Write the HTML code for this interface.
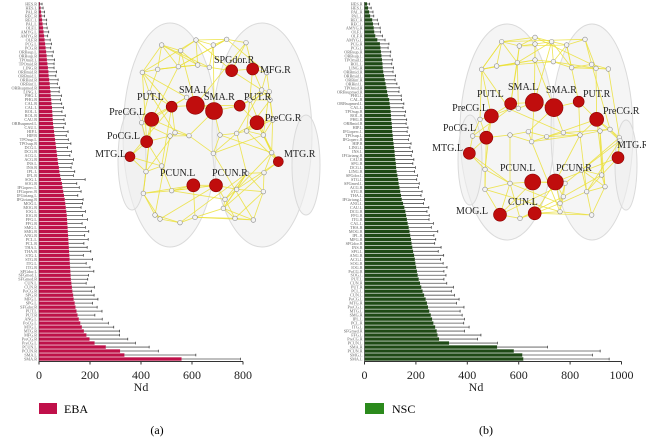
<!DOCTYPE html>
<html><head><meta charset="utf-8">
<style>
html,body{margin:0;padding:0;background:#fff;}
svg{display:block;font-family:"Liberation Serif",serif;}
</style></head>
<body>
<svg id="fig" width="646" height="438" viewBox="0 0 646 438" xmlns="http://www.w3.org/2000/svg">
<g id="chartA"></g>
<g id="chartB"></g>
<g id="brainA"></g>
<g id="brainB"></g>
<g>
<rect x="39" y="403" width="18" height="11" fill="#c0104a"/>
<text x="64" y="413" font-size="12">EBA</text>
</g>
<g>
<rect x="365" y="403" width="19" height="11" fill="#2b8a1c"/>
<text x="392" y="413" font-size="12">NSC</text>
</g>
<text x="157" y="434" font-size="12" text-anchor="middle">(a)</text>
<text x="486" y="434" font-size="12" text-anchor="middle">(b)</text>
</svg>
<script>
const NS="http://www.w3.org/2000/svg";
// ---- data: EBA ----
const ebaRegions=["HES.R","HES.L","PAL.R","REC.R","REC.L","PAL.L","OLF.L","AMYG.L","AMYG.R","OLF.R",
"PCG.L","PCG.R","ORBsup.L","ORBsup.R","TPOmid.L","TPOmid.R","LING.R","ORBmid.R","ORBmid.L","ORBinf.R",
"ORBinf.L","ORBsupmed.R","LING.L","PHG.L","PHG.R","CAL.R","CAL.L","ROL.L","ROL.R","CAU.R",
"ORBsupmed.L","CAU.L","HIP.L","HIP.R","TPOsup.L","TPOsup.R","DCG.L","DCG.R","ACG.L","ACG.R",
"INS.L","INS.R","IPL.L","IPL.R","SOG.L","SOG.R","IFGoperc.L","IFGoperc.R","IFGtriang.L","IFGtriang.R",
"MOG.L","MOG.R","IOG.L","IOG.R","FFG.L","FFG.R","SMG.L","SMG.R","ANG.R","PCL.L",
"PCL.R","THA.L","THA.R","STG.L","STG.R","ITG.L","ITG.R","SFGdor.L","SFGmed.L","SFGmed.R",
"CUN.L","CUN.R","PoCG.R","SPG.R","MFG.L","SPG.L","SFGdor.R","PUT.L","PUT.R","ANG.L",
"PoCG.L","MTG.L","MTG.R","MFG.R","PreCG.R","PreCG.L","PCUN.L","PCUN.R","SMA.L","SMA.R"];
const ebaMean=[4,6,8,10,12,14,16,18,20,22,
24,26,28,30,31,33,35,37,38,40,
42,43,45,46,48,49,51,52,53,54,
55,57,59,61,63,65,67,69,71,73,
75,78,80,83,86,90,92,95,98,101,
103,105,107,109,110,111,112,113,114,115,
116,117,118,119,120,121,122,123,124,125,
127,129,131,134,136,140,143,147,151,156,
162,168,176,186,198,218,262,318,335,559];
const ebaSD=[8,10,14,12,18,15,16,20,14,22,
25,20,28,22,30,26,24,32,28,35,
30,38,34,42,36,40,45,38,50,44,
48,40,55,46,52,60,45,58,50,62,
55,48,60,52,95,58,66,70,54,72,
68,60,75,62,80,58,70,82,65,78,
60,72,85,55,90,64,78,92,70,66,
58,88,75,82,95,70,85,100,68,92,
110,125,140,130,150,160,170,150,280,231];
const ebaTicks=[0,200,400,600,800];
// ---- data: NSC ----
const nscRegions=["HES.R","HES.L","PAL.R","PAL.L","REC.R","REC.L","AMYG.R","OLF.L","OLF.R","AMYG.L",
"PCG.R","PCG.L","ORBsup.R","ORBsup.L","TPOmid.L","ROL.L","LING.R","ORBmid.R","ORBmid.L","ORBinf.R",
"ORBinf.L","TPOmid.R","ORBsupmed.R","PHG.L","CAL.R","ORBsupmed.L","CAL.L","TPOsup.R","ROL.R","PHG.R",
"ORBmid.R","HIP.L","IFGoperc.L","TPOsup.L","IFGoperc.R","HIP.R","LING.L","INS.L","IFGtriang.R","CAU.R",
"SPG.R","DCG.L","LING.R","SFGdor.L","STG.L","SFGmed.L","ACG.R","STG.R","THA.L","IFGtriang.L",
"ANG.L","CAU.L","DCG.R","FFG.R","ITG.R","CAL.L","THA.R","MOG.R","IPL.R","MFG.R",
"SFGdor.R","INS.R","SPG.L","ANG.R","ACG.L","SOG.R","IOG.R","PoCG.R","SOG.L","PUT.L",
"CUN.R","PUT.R","PCL.L","CUN.L","PoCG.L","MTG.R","PreCG.L","MTG.L","SMG.R","IPL.L",
"PCL.R","ITG.L","SFGmed.R","FFG.L","PreCG.R","PCUN.L","SMA.R","PCUN.R","SMG.L","SMA.L"];
const nscMean=[10,14,18,22,30,33,36,38,42,50,
60,62,64,66,68,70,71,73,76,79,
82,85,88,91,96,98,100,102,103,104,
106,107,108,110,111,113,115,117,118,120,
122,123,125,128,131,133,136,139,142,145,
150,155,159,162,165,168,172,175,178,181,
183,186,189,193,196,198,201,204,207,211,
216,221,226,232,238,243,247,252,258,263,
268,275,281,284,290,329,516,581,614,618];
const nscSD=[10,12,15,14,20,22,25,24,28,30,
35,30,38,34,40,36,42,38,45,40,
44,50,46,52,48,55,50,58,54,60,
56,62,58,65,60,68,62,70,64,72,
66,75,70,78,72,80,74,85,78,88,
80,95,84,90,86,100,88,110,92,96,
90,112,98,115,100,108,120,105,110,98,
104,125,112,118,130,115,140,120,122,126,
118,132,108,169,150,188,196,336,273,334];
const nscTicks=[0,200,400,600,800,1000];

function mk(tag,attrs,parent){const e=document.createElementNS(NS,tag);for(const k in attrs)e.setAttribute(k,attrs[k]);parent.appendChild(e);return e;}

function drawChart(g,regions,mean,sd,ticks,x0,x1,maxV,color,prefix,nameX){
  const yTop=2,yBot=361,n=regions.length,rowH=(yBot-yTop)/n;
  const xs=v=>x0+(v/maxV)*(x1-x0);
  const yc=i=>yTop+i*rowH+rowH/2;
  for(let i=0;i<n;i++){
    const b=mk('rect',{x:x0,y:yc(i)-rowH*0.42,width:Math.max(0,xs(mean[i])-x0),height:rowH*0.84,fill:color},g);
    
    
    const e=mk('line',{x1:xs(mean[i]),x2:xs(mean[i]+sd[i]),y1:yc(i),y2:yc(i),stroke:'#555','stroke-width':0.8},g);
    
    
    mk('line',{x1:xs(mean[i]+sd[i]),x2:xs(mean[i]+sd[i]),y1:yc(i)-1.3,y2:yc(i)+1.3,stroke:'#444','stroke-width':0.8},g);
    const t=mk('text',{x:x0-2,y:yc(i)+1.5,'font-size':4.2,'text-anchor':'end',fill:'#666'},g);
    t.textContent=regions[i];
    
    
  }
  const ax=mk('line',{x1:x0,x2:x1,y1:361.5,y2:361.5,stroke:'#333','stroke-width':1},g);
  
  
  mk('line',{x1:x0,x2:x0,y1:yTop,y2:361.5,stroke:'#333','stroke-width':0.6},g);
  ticks.forEach(v=>{
    mk('line',{x1:xs(v),x2:xs(v),y1:361.5,y2:364.5,stroke:'#333','stroke-width':1},g);
    const t=mk('text',{x:xs(v),y:379,'font-size':12,'text-anchor':'middle',fill:'#222'},g);
    t.textContent=v;
    
    
  });
  const tt=mk('text',{x:nameX,y:391,'font-size':12,'text-anchor':'middle',fill:'#222'},g);
  tt.textContent='Nd';
  
  
}
drawChart(document.getElementById('chartA'),ebaRegions,ebaMean,ebaSD,ebaTicks,39,243,800,'#be1149','eba',141);
drawChart(document.getElementById('chartB'),nscRegions,nscMean,nscSD,nscTicks,364.5,621.5,1000,'#1f4a16','nsc',476);

// ---- brain illustrations (zoom coords -> page coords) ----
function drawBrain(g,ox,hemis,small,big,labels,prefix){
  const P=(zx,zy)=>[ox+zx/3,zy/3];
  hemis.forEach(h=>{
    const e=mk('ellipse',{cx:h[0],cy:h[1],rx:h[2],ry:h[3],fill:'#eeeeee','fill-opacity':0.6,stroke:'#dadada','stroke-width':1},g);
    
    
  });
  const nodes=small.map(p=>P(p[0],p[1])).concat(big.map(b=>P(b[0],b[1])));
  const eg=mk('g',{stroke:'#ebe03a','stroke-width':0.85,'stroke-opacity':0.85},g);
  
  
  const seen={};
  nodes.forEach((a,i)=>{
    const d=nodes.map((b,j)=>[j,(a[0]-b[0])**2+(a[1]-b[1])**2]).filter(q=>q[0]!==i).sort((p,q)=>p[1]-q[1]);
    for(let k=0;k<3;k++){const j=d[k][0];const key=Math.min(i,j)+'-'+Math.max(i,j);if(seen[key])continue;seen[key]=1;
      mk('line',{x1:a[0],y1:a[1],x2:nodes[j][0],y2:nodes[j][1]},eg);}
    const j=d[(i*7)%12+5][0];mk('line',{x1:a[0],y1:a[1],x2:nodes[j][0],y2:nodes[j][1]},eg);
  });
  small.forEach(p=>{const q=P(p[0],p[1]);
    const c=mk('circle',{cx:q[0],cy:q[1],r:2.3,fill:'#f4f4f4',stroke:'#888','stroke-width':0.6},g);
    
    });
  big.forEach(b=>{const q=P(b[0],b[1]);
    const c=mk('circle',{cx:q[0],cy:q[1],r:b[2],fill:'#c00d0d',stroke:'#8a0000','stroke-width':0.6},g);
    
    });
  labels.forEach(l=>{
    const t=mk('text',{x:l[1],y:l[2],'font-size':10,'text-anchor':l[3]||'start',fill:'#222'},g);
    t.textContent=l[0];
    
    });
}
drawBrain(document.getElementById('brainA'),110,
 [[170,135,47,112],[262,135,50,112],[132,160,14,50],[306,165,14,50]],
 [[155,135],[212,152],[258,120],[310,135],[350,118],[408,128],[97,217],[143,208],[205,200],[263,195],[298,202],[470,218],[478,275],[455,270],[118,278],[230,292],[480,300],[420,300],[95,368],[180,408],[195,398],[237,407],[330,405],[380,400],[410,393],[460,405],[488,360],[310,460],[485,458],[155,498],[108,515],[410,520],[462,518],[185,572],[100,580],[380,568],[460,575],[345,598],[340,625],[135,645],[150,657],[210,668],[255,652],[375,655],[430,660]],
 [[365,212,6],[428,207,6],[256,316,9],[312,333,8.5],[185,320,5.5],[389,317,5.5],[125,358,7],[441,368,7],[110,425,6],[60,470,5],[505,485,5],[250,556,6.5],[318,556,6.5]],
 [["SPGdor.R",214,63],["MFG.R",260,73],["SMA.L",179,93],["SMA.R",204,100],["PUT.L",137,100],["PUT.R",244,100],["PreCG.L",145,115,"end"],["PreCG.R",265,121],["PoCG.L",140,139,"end"],["MTG.L",126,157,"end"],["MTG.R",284,157],["PCUN.L",160,176],["PCUN.R",212,176]],'eba');
drawBrain(document.getElementById('brainB'),420,
 [[507,132,47,108],[592,132,41,108],[470,160,12,45],[626,165,11,45]],
 [[245,125],[298,138],[345,112],[395,125],[440,135],[495,118],[345,132],[185,208],[230,198],[292,188],[345,180],[400,185],[455,203],[515,193],[528,205],[565,207],[180,358],[268,327],[295,325],[158,408],[270,405],[325,395],[380,410],[430,398],[480,405],[540,393],[598,413],[335,425],[195,508],[195,568],[270,550],[435,550],[485,510],[545,525],[555,560],[430,590],[420,610],[500,575],[300,655],[420,635],[515,645],[570,388],[600,422]],
 [[343,307,9],[402,323,9],[272,311,6],[476,305,5.5],[214,348,7],[530,358,7],[199,413,6.5],[148,460,6],[594,473,6],[338,546,8],[406,546,8],[240,644,6.5],[344,640,6.5]],
 [["SMA.L",508,90],["SMA.R",546,93],["PUT.L",477,97],["PUT.R",583,97],["PreCG.L",488,111,"end"],["PreCG.R",603,114],["PoCG.L",476,131,"end"],["MTG.L",463,151,"end"],["MTG.R",617,148],["PCUN.L",500,171],["PCUN.R",556,171],["MOG.L",488,214,"end"],["CUN.L",508,205]],'nsc');
</script>
</body></html>
